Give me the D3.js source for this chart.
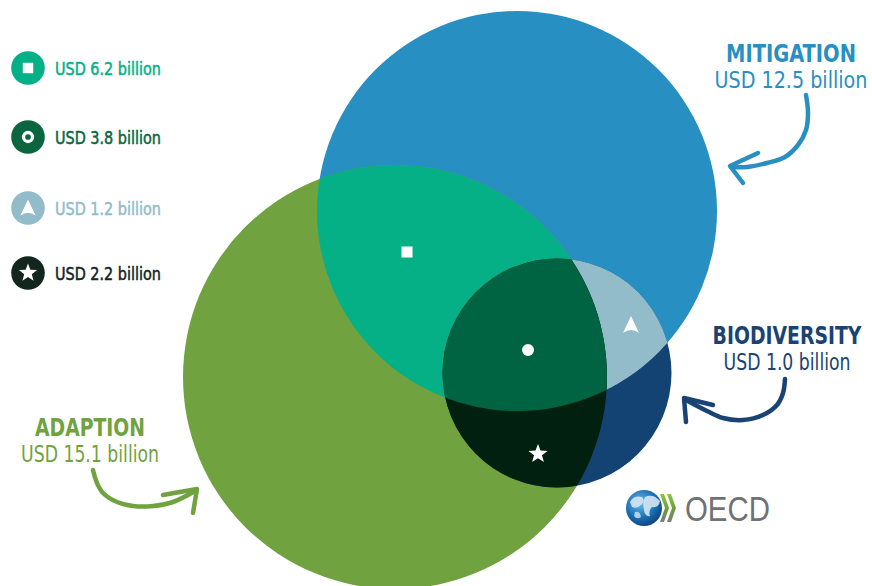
<!DOCTYPE html>
<html>
<head>
<meta charset="utf-8">
<script src="https://cdn.jsdelivr.net/npm/d3@7"></script>
<style>
  html, body { margin: 0; padding: 0; background: #ffffff; }
  svg { display: block; }
  text { font-family: "Liberation Sans Narrow", "DejaVu Sans Condensed", "Roboto Condensed", sans-serif; }
</style>
</head>
<body>
<svg id="chart" width="872" height="586"></svg>
<script>
// ---------------- DATA ----------------
const setNames  = ["MITIGATION", "ADAPTION", "BIODIVERSITY"];
const setValues = [12.5, 15.1, 1.0];                 // USD billion
const overlapKeys   = ["M&A", "M&A&B", "M&B", "A&B"];
const overlapValues = [6.2, 3.8, 1.2, 2.2];          // USD billion
const overlapSymbols = ["square", "dot", "arrowhead", "star"];
const currency = "USD";
const unitWord = "billion";

// ---------------- LAYOUT / STYLE ----------------
const setColor = d3.scaleOrdinal().domain(setNames).range(["#288fc2", "#70a240", "#134372"]);
const setLabelColor = d3.scaleOrdinal().domain(setNames).range(["#288fc2", "#70a240", "#1a4373"]);
const overlapColor = d3.scaleOrdinal().domain(overlapKeys).range(["#05b086", "#006443", "#93bccb", "#022010"]);
const legendColor = d3.scaleOrdinal().domain(overlapKeys).range(["#05b086", "#0b6640", "#93bccb", "#13261e"]);

const circleGeom = {
  "MITIGATION":   {cx: 517, cy: 211, r: 200},
  "ADAPTION":     {cx: 395, cy: 377, r: 212},
  "BIODIVERSITY": {cx: 557, cy: 373, r: 114.5}
};
const symbolPos = {
  "M&A":   [407, 252],
  "M&A&B": [528, 350],
  "M&B":   [631, 325],
  "A&B":   [538, 454]
};
const labelPos = {
  "MITIGATION":   {x: 791, y: 62,  w1: 130, w2: 153},
  "BIODIVERSITY": {x: 787, y: 344, w1: 149, w2: 127},
  "ADAPTION":     {x: 90,  y: 436, w1: 110, w2: 138}
};
const fmt = d3.format(".1f");
const money = v => `${currency} ${fmt(v)} ${unitWord}`;

const svg = d3.select("#chart");
const defs = svg.append("defs");

// place a text at (x,y) and squeeze/stretch it horizontally to a target width
function fitText(sel, x, y, target, anchor) {
  sel.attr("x", 0).attr("y", 0).attr("text-anchor", anchor || "start");
  const w = sel.node().getComputedTextLength();
  const sx = w > 0 ? target / w : 1;
  sel.attr("transform", `translate(${x},${y}) scale(${sx.toFixed(4)},1)`);
  return sel;
}

// clip paths for each circle
setNames.forEach((n, i) => {
  const g = circleGeom[n];
  defs.append("clipPath").attr("id", "clip" + i)
    .append("circle").attr("cx", g.cx).attr("cy", g.cy).attr("r", g.r);
});

const venn = svg.append("g");
venn.selectAll("circle.base").data(setNames).join("circle")
  .attr("class", "base")
  .attr("cx", d => circleGeom[d].cx).attr("cy", d => circleGeom[d].cy).attr("r", d => circleGeom[d].r)
  .attr("fill", d => setColor(d));

function circleIn(parent, name, fill) {
  const g = circleGeom[name];
  return parent.append("circle").attr("cx", g.cx).attr("cy", g.cy).attr("r", g.r).attr("fill", fill);
}
circleIn(venn.append("g").attr("clip-path", "url(#clip0)"), "ADAPTION", overlapColor("M&A"));
circleIn(venn.append("g").attr("clip-path", "url(#clip0)"), "BIODIVERSITY", overlapColor("M&B"));
circleIn(venn.append("g").attr("clip-path", "url(#clip1)"), "BIODIVERSITY", overlapColor("A&B"));
circleIn(venn.append("g").attr("clip-path", "url(#clip0)").append("g").attr("clip-path", "url(#clip1)"),
  "BIODIVERSITY", overlapColor("M&A&B"));

// ---------------- SYMBOLS ----------------
function starPath(R, r) {
  const pts = [];
  for (let i = 0; i < 10; i++) {
    const a = -Math.PI / 2 + i * Math.PI / 5;
    const rr = i % 2 === 0 ? R : r;
    pts.push([rr * Math.cos(a), rr * Math.sin(a)]);
  }
  return "M" + pts.map(p => p.join(",")).join("L") + "Z";
}
function drawSymbol(g, type, bg, scale) {
  const s = scale || 1;
  if (type === "square") {
    g.append("rect").attr("x", -5.5 * s).attr("y", -5.5 * s).attr("width", 11 * s).attr("height", 11 * s).attr("fill", "#fff");
  } else if (type === "dot") {
    g.append("circle").attr("r", 6 * s).attr("fill", "#fff");
  } else if (type === "ring") {
    g.append("circle").attr("r", 6.5 * s).attr("fill", "#fff");
    g.append("circle").attr("r", 3 * s).attr("fill", bg);
  } else if (type === "arrowhead") {
    g.append("path").attr("d", `M0,${-9 * s} L${8 * s},${8 * s} Q0,${2 * s} ${-8 * s},${8 * s} Z`).attr("fill", "#fff");
  } else if (type === "star") {
    g.append("path").attr("d", starPath(10 * s, 4.2 * s)).attr("fill", "#fff");
  }
}
overlapKeys.forEach((k, i) => {
  const g = svg.append("g").attr("transform", `translate(${symbolPos[k][0]},${symbolPos[k][1]})`);
  drawSymbol(g, overlapSymbols[i], overlapColor(k), 1);
});

// ---------------- LEGEND ----------------
const legendYs = [68, 137, 208, 273];
const legend = svg.append("g");
overlapKeys.forEach((k, i) => {
  const gy = legendYs[i];
  const g = legend.append("g").attr("transform", `translate(28,${gy})`);
  g.append("circle").attr("r", 16.8).attr("fill", legendColor(k));
  const sym = overlapSymbols[i] === "dot" ? "ring" : overlapSymbols[i];
  drawSymbol(g, sym, legendColor(k), 0.95);
  const t = legend.append("text")
    .attr("font-size", 18).attr("font-weight", "normal")
    .attr("fill", legendColor(k))
    .attr("stroke", legendColor(k)).attr("stroke-width", 0.5)
    .text(money(overlapValues[i]));
  fitText(t, 55, gy + 7, 106, "start");
});

// ---------------- SET LABELS ----------------
setNames.forEach((n, i) => {
  const p = labelPos[n];
  const t1 = svg.append("text")
    .attr("font-size", 24.5).attr("font-weight", "bold").attr("fill", setLabelColor(n))
    .text(n);
  fitText(t1, p.x, p.y - 0.5, p.w1, "middle");
  const t2 = svg.append("text")
    .attr("font-size", 22.5).attr("fill", setLabelColor(n))
    .text(money(setValues[i]));
  fitText(t2, p.x, p.y + 25.5, p.w2, "middle");
});

// ---------------- ARROWS (annotations) ----------------
const arrows = [
  {set: "MITIGATION",
   shaft: [[806, 95], [808, 113], [806, 130], [798, 145], [785, 157], [767, 163], [747, 167], [731, 167]],
   head: [[758, 153], [730, 166], [743, 183]]},
  {set: "BIODIVERSITY",
   shaft: [[785, 379], [783, 393], [777, 405], [763, 415], [743, 420], [723, 418], [707, 411], [686, 400]],
   head: [[713, 405], [684, 398], [686, 422]]},
  {set: "ADAPTION",
   shaft: [[93, 470], [97, 483], [103, 493], [117, 502], [133, 506], [153, 506], [173, 502], [195, 491]],
   head: [[163, 495], [197, 489], [193, 513]]}
];
const lineGen = d3.line().curve(d3.curveCatmullRom.alpha(0.5));
arrows.forEach(a => {
  svg.append("path").attr("d", lineGen(a.shaft)).attr("fill", "none")
    .attr("stroke", setLabelColor(a.set)).attr("stroke-width", 4.5).attr("stroke-linecap", "round");
  svg.append("path").attr("d", d3.line()(a.head)).attr("fill", "none")
    .attr("stroke", setLabelColor(a.set)).attr("stroke-width", 4.5)
    .attr("stroke-linecap", "round").attr("stroke-linejoin", "round");
});

// ---------------- OECD LOGO ----------------
const grad = defs.append("radialGradient").attr("id", "globeGrad").attr("cx", "40%").attr("cy", "35%").attr("r", "70%");
grad.append("stop").attr("offset", "0%").attr("stop-color", "#6cbbe8");
grad.append("stop").attr("offset", "60%").attr("stop-color", "#1a6fb5");
grad.append("stop").attr("offset", "100%").attr("stop-color", "#0b3f7a");
const logo = svg.append("g");
logo.append("circle").attr("cx", 644).attr("cy", 508).attr("r", 18).attr("fill", "url(#globeGrad)");
logo.append("path").attr("d", "M630,502 Q634,495 642,497 Q646,501 641,505 Q637,509 632,507 Z").attr("fill", "#d5e6f2").attr("opacity", 0.9);
logo.append("path").attr("d", "M645,497 Q653,493 660,501 Q659,508 652,507 Q648,511 650,516 Q645,517 644,510 Q642,503 645,497 Z").attr("fill", "#d5e6f2").attr("opacity", 0.9);
logo.append("path").attr("d", "M635,512 Q640,511 641,517 Q637,520 634,516 Z").attr("fill", "#d5e6f2").attr("opacity", 0.8);
const cg = defs.append("linearGradient").attr("id", "chevGrad").attr("x1", 0).attr("y1", 0).attr("x2", 0).attr("y2", 1);
cg.append("stop").attr("offset", "0%").attr("stop-color", "#8cc63f");
cg.append("stop").attr("offset", "55%").attr("stop-color", "#6c9c3a");
cg.append("stop").attr("offset", "100%").attr("stop-color", "#7b7d80");
[0, 7].forEach(dx => {
  const x = 660 + dx;
  logo.append("path")
    .attr("d", `M${x},494 L${x + 4},494 L${x + 9},508 L${x + 4},522 L${x},522 L${x + 5},508 Z`)
    .attr("fill", "url(#chevGrad)");
});
const ot = logo.append("text")
  .attr("font-size", 36).attr("fill", "#707173")
  .style("font-family", "'Liberation Sans', 'DejaVu Sans', sans-serif")
  .text("OECD");
fitText(ot, 685, 521, 85, "start");
</script>
</body>
</html>
